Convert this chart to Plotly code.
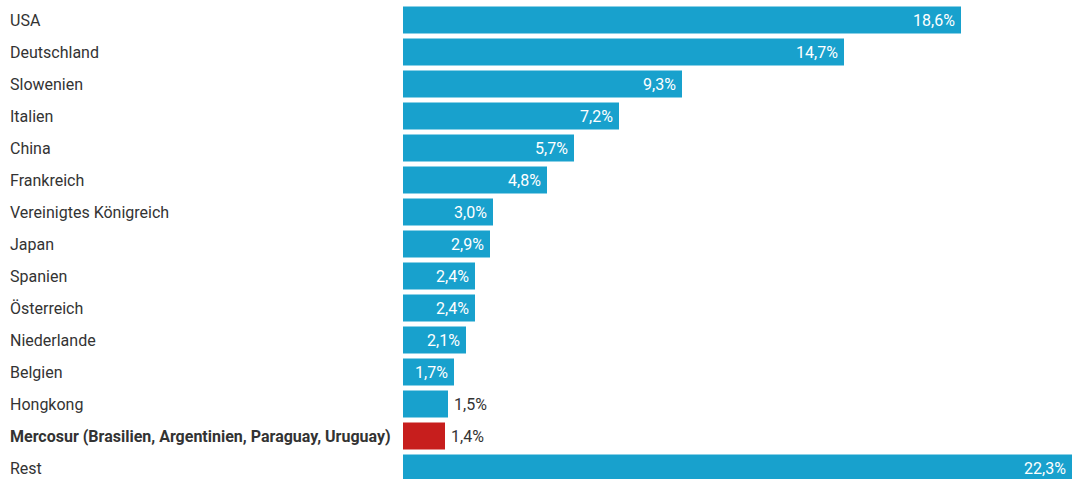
import plotly.graph_objects as go

categories = ["USA", "Deutschland", "Slowenien", "Italien", "China", "Frankreich",
              "Vereinigtes Königreich", "Japan", "Spanien", "Österreich", "Niederlande",
              "Belgien", "Hongkong", "Mercosur (Brasilien, Argentinien, Paraguay, Uruguay)", "Rest"]
values = [18.6, 14.7, 9.3, 7.2, 5.7, 4.8, 3.0, 2.9, 2.4, 2.4, 2.1, 1.7, 1.5, 1.4, 22.3]
highlight = "Mercosur (Brasilien, Argentinien, Paraguay, Uruguay)"

BLUE = "#18a1cd"
RED = "#c71e1d"
colors = [RED if c == highlight else BLUE for c in categories]
labels = [f"{v:.1f}%".replace(".", ",") for v in values]

W, H = 1074, 479
L = 403
xmax = (W - L) / 30.0
FONT = "Roboto"
FS = 16

fig = go.Figure(go.Bar(
    x=values, y=list(range(len(categories))), orientation="h",
    marker=dict(color=colors, line=dict(width=0)),
    width=0.84, hoverinfo="skip",
))

annotations = []
for i, c in enumerate(categories):
    txt = f"<b>{c}</b>" if c == highlight else c
    annotations.append(dict(
        xref="paper", yref="y", x=-(L - 8) / (W - L), y=i, text=txt,
        showarrow=False, xanchor="left", yanchor="middle",
        font=dict(family=FONT, size=FS, color="#333333"),
    ))
    v = values[i]
    inside = v >= 1.6
    annotations.append(dict(
        xref="x", yref="y", x=v, y=i, text=labels[i],
        showarrow=False, xanchor="right" if inside else "left",
        xshift=-4 if inside else 4, yanchor="middle",
        font=dict(family=FONT, size=FS, color="white" if inside else "#333333"),
    ))

fig.update_layout(
    width=W, height=H,
    margin=dict(l=L, r=0, t=0, b=0),
    paper_bgcolor="white", plot_bgcolor="white",
    showlegend=False,
    annotations=annotations,
    xaxis=dict(range=[0, xmax], visible=False, fixedrange=True),
    yaxis=dict(range=[14 + 11 / 32, -20 / 32], visible=False, fixedrange=True),
)

fig.write_html("out.html", config={"displayModeBar": False})
